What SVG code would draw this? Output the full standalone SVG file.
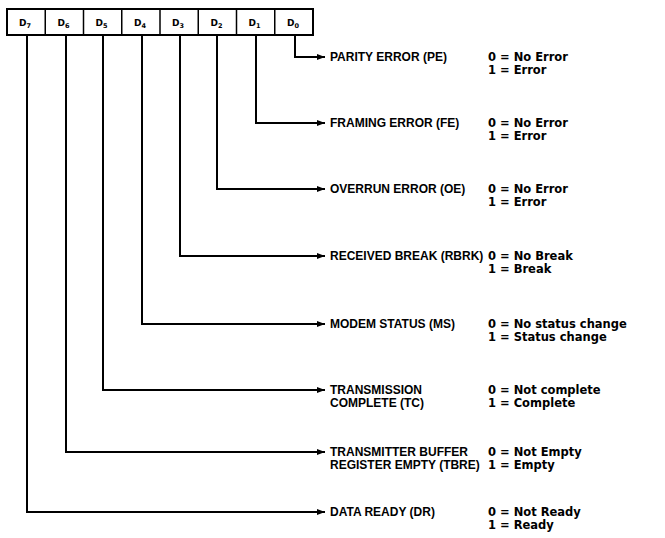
<svg xmlns="http://www.w3.org/2000/svg" width="665" height="538" viewBox="0 0 665 538">
<style>
.lbl{font-family:"Liberation Sans",Arial,sans-serif;font-weight:bold;font-size:12px;fill:#000}
.val{font-family:"DejaVu Sans","Liberation Sans",sans-serif;font-weight:bold;font-size:11.5px;fill:#000}
.cell{font-family:"DejaVu Sans","Liberation Sans",sans-serif;font-weight:bold;font-size:9px;fill:#000}
.sub{font-size:6.5px}
.box{fill:#fff;stroke:#000;stroke-width:2}
.wire{fill:none;stroke:#000;stroke-width:2}
</style>
<defs>
<marker id="ah" markerUnits="userSpaceOnUse" markerWidth="8" markerHeight="6" refX="8" refY="3" orient="auto">
<path d="M0,0 L8,3 L0,6 z" fill="#000"/>
</marker>
</defs>
<rect width="665" height="538" fill="#fff"/>
<g id="register">
<rect class="box" x="7" y="9" width="306" height="26"/>
<g stroke="#000" stroke-width="1.5">
<line x1="45.25" y1="9" x2="45.25" y2="35"/>
<line x1="83.5" y1="9" x2="83.5" y2="35"/>
<line x1="121.75" y1="9" x2="121.75" y2="35"/>
<line x1="160" y1="9" x2="160" y2="35"/>
<line x1="198.25" y1="9" x2="198.25" y2="35"/>
<line x1="236.5" y1="9" x2="236.5" y2="35"/>
<line x1="274.75" y1="9" x2="274.75" y2="35"/>
</g>
<text class="cell" x="25" y="26" text-anchor="middle">D<tspan class="sub" dy="1.5">7</tspan></text>
<text class="cell" x="63.4" y="26" text-anchor="middle">D<tspan class="sub" dy="1.5">6</tspan></text>
<text class="cell" x="101.6" y="26" text-anchor="middle">D<tspan class="sub" dy="1.5">5</tspan></text>
<text class="cell" x="139.9" y="26" text-anchor="middle">D<tspan class="sub" dy="1.5">4</tspan></text>
<text class="cell" x="178.1" y="26" text-anchor="middle">D<tspan class="sub" dy="1.5">3</tspan></text>
<text class="cell" x="216.4" y="26" text-anchor="middle">D<tspan class="sub" dy="1.5">2</tspan></text>
<text class="cell" x="254.6" y="26" text-anchor="middle">D<tspan class="sub" dy="1.5">1</tspan></text>
<text class="cell" x="292.9" y="26" text-anchor="middle">D<tspan class="sub" dy="1.5">0</tspan></text>
</g>
<g id="connectors">
<path class="wire" marker-end="url(#ah)" d="M295,35 V57 H325"/>
<path class="wire" marker-end="url(#ah)" d="M256,35 V123 H325"/>
<path class="wire" marker-end="url(#ah)" d="M217,35 V189 H325"/>
<path class="wire" marker-end="url(#ah)" d="M180,35 V256 H325"/>
<path class="wire" marker-end="url(#ah)" d="M142,35 V324 H325"/>
<path class="wire" marker-end="url(#ah)" d="M103,35 V390 H325"/>
<path class="wire" marker-end="url(#ah)" d="M66,35 V452 H325"/>
<path class="wire" marker-end="url(#ah)" d="M27,35 V512 H325"/>
</g>
<g id="pe">
<text class="lbl" x="330" y="61">PARITY ERROR (PE)</text>
<text class="val" x="488" y="61">0 = No Error</text>
<text class="val" x="488" y="74">1 = Error</text>
</g>
<g id="fe">
<text class="lbl" x="330" y="127">FRAMING ERROR (FE)</text>
<text class="val" x="488" y="127">0 = No Error</text>
<text class="val" x="488" y="140">1 = Error</text>
</g>
<g id="oe">
<text class="lbl" x="330" y="193">OVERRUN ERROR (OE)</text>
<text class="val" x="488" y="193">0 = No Error</text>
<text class="val" x="488" y="206">1 = Error</text>
</g>
<g id="rbrk">
<text class="lbl" x="330" y="260">RECEIVED BREAK (RBRK)</text>
<text class="val" x="488" y="260">0 = No Break</text>
<text class="val" x="488" y="273">1 = Break</text>
</g>
<g id="ms">
<text class="lbl" x="330" y="328">MODEM STATUS (MS)</text>
<text class="val" x="488" y="328">0 = No status change</text>
<text class="val" x="488" y="341">1 = Status change</text>
</g>
<g id="tc">
<text class="lbl" x="330" y="394">TRANSMISSION</text>
<text class="lbl" x="330" y="407">COMPLETE (TC)</text>
<text class="val" x="488" y="394">0 = Not complete</text>
<text class="val" x="488" y="407">1 = Complete</text>
</g>
<g id="tbre">
<text class="lbl" x="330" y="456">TRANSMITTER BUFFER</text>
<text class="lbl" x="330" y="469">REGISTER EMPTY (TBRE)</text>
<text class="val" x="488" y="456">0 = Not Empty</text>
<text class="val" x="488" y="469">1 = Empty</text>
</g>
<g id="dr">
<text class="lbl" x="330" y="516">DATA READY (DR)</text>
<text class="val" x="488" y="516">0 = Not Ready</text>
<text class="val" x="488" y="529">1 = Ready</text>
</g>
</svg>
